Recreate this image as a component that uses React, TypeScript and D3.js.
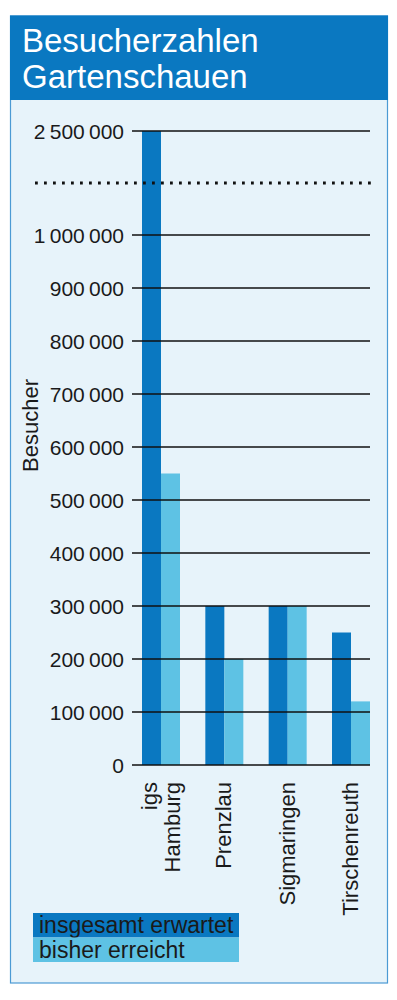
import React from "react";
import * as d3 from "d3";

const WIDTH = 397;
const HEIGHT = 1000;

// data
const categories = ["igs Hamburg", "Prenzlau", "Sigmaringen", "Tirschenreuth"];
const expected = [2500000, 300000, 300000, 250000];
const reached = [550000, 200000, 300000, 120000];
const seriesNames = ["insgesamt erwartet", "bisher erreicht"];
const tickValues = [0, 100000, 200000, 300000, 400000, 500000, 600000, 700000, 800000, 900000, 1000000, 2500000];

const DARK = "#0a78c1";
const LIGHT = "#5ec2e4";
const BG = "#e7f3fa";
const TEXT = "#1a1a1a";
const FONT = "'Liberation Sans', Arial, sans-serif";

const locale = d3.formatLocale({
  decimal: ",",
  thousands: "\u2009",
  grouping: [3],
  currency: ["", ""],
});
const fmt = locale.format(",");

export default function App() {
  // broken y axis: linear up to 1 Mio, then compressed to 2,5 Mio
  const y = d3.scaleLinear().domain([0, 1000000, 2500000]).range([765, 235, 131]);
  const yBreak = (y(1000000) + y(2500000)) / 2;

  const x = d3.scaleBand().domain(categories).range([142, 370]).paddingInner(0.4).paddingOuter(0);
  const xSub = d3.scaleBand().domain(seriesNames).range([0, x.bandwidth()]);
  const colors = d3.scaleOrdinal<string, string>().domain(seriesNames).range([DARK, LIGHT]);

  const rows = categories.map((c, i) => ({ c, values: [expected[i], reached[i]] }));

  return (
    <svg
      width={WIDTH}
      height={HEIGHT}
      style={{ position: "absolute", left: 0, top: 0, background: "#fff" }}
      fontFamily={FONT}
    >
      {/* frame */}
      <rect x={10.5} y={16} width={377} height={967} fill={BG} stroke="#4b9ad4" strokeWidth={1.2} />
      <rect x={10} y={15.5} width={378} height={84.5} fill={DARK} />
      <text x={22} y={52} fontSize={33} fill="#fff">Besucherzahlen</text>
      <text x={22} y={88} fontSize={33} fill="#fff">Gartenschauen</text>

      {/* bars */}
      {rows.map((r) => (
        <g key={r.c} transform={`translate(${x(r.c)},0)`}>
          {r.values.map((v, j) => (
            <rect
              key={j}
              x={xSub(seriesNames[j])}
              y={y(v)}
              width={xSub.bandwidth()}
              height={y(0) - y(v)}
              fill={colors(seriesNames[j])}
            />
          ))}
        </g>
      ))}

      {/* grid + ticks */}
      {tickValues.map((t) => (
        <g key={t}>
          <line x1={132} x2={370} y1={y(t)} y2={y(t)} stroke="#111" strokeWidth={1.4} />
          <text x={124} y={y(t)} dy="0.36em" textAnchor="end" fontSize={21} fill={TEXT}>
            {fmt(t)}
          </text>
        </g>
      ))}

      {/* axis break */}
      <line
        x1={35}
        x2={374}
        y1={yBreak}
        y2={yBreak}
        stroke="#111"
        strokeWidth={2.8}
        strokeDasharray="2.8 6.2"
      />

      {/* y title */}
      <text
        transform={`translate(38,${(y(300000) + y(1000000)) / 2 + 5}) rotate(-90)`}
        textAnchor="middle"
        fontSize={22}
        fill={TEXT}
      >
        Besucher
      </text>

      {/* category labels */}
      {categories.map((c) => {
        const lines = c.split(" ");
        const cx = (x(c) ?? 0) + x.bandwidth() / 2;
        return lines.map((l, k) => {
          const bx = cx + 7 + (k - (lines.length - 1) / 2) * 23;
          return (
            <text
              key={c + k}
              transform={`translate(${bx},782) rotate(-90)`}
              textAnchor="end"
              fontSize={22}
              fill={TEXT}
            >
              {l}
            </text>
          );
        });
      })}

      {/* legend */}
      {seriesNames.map((s, i) => (
        <g key={s} transform={`translate(33,${913 + i * 24.5})`}>
          <rect width={206} height={24.5} fill={colors(s)} />
          <text x={6} y={20} fontSize={23} fill={TEXT}>
            {s}
          </text>
        </g>
      ))}
    </svg>
  );
}
